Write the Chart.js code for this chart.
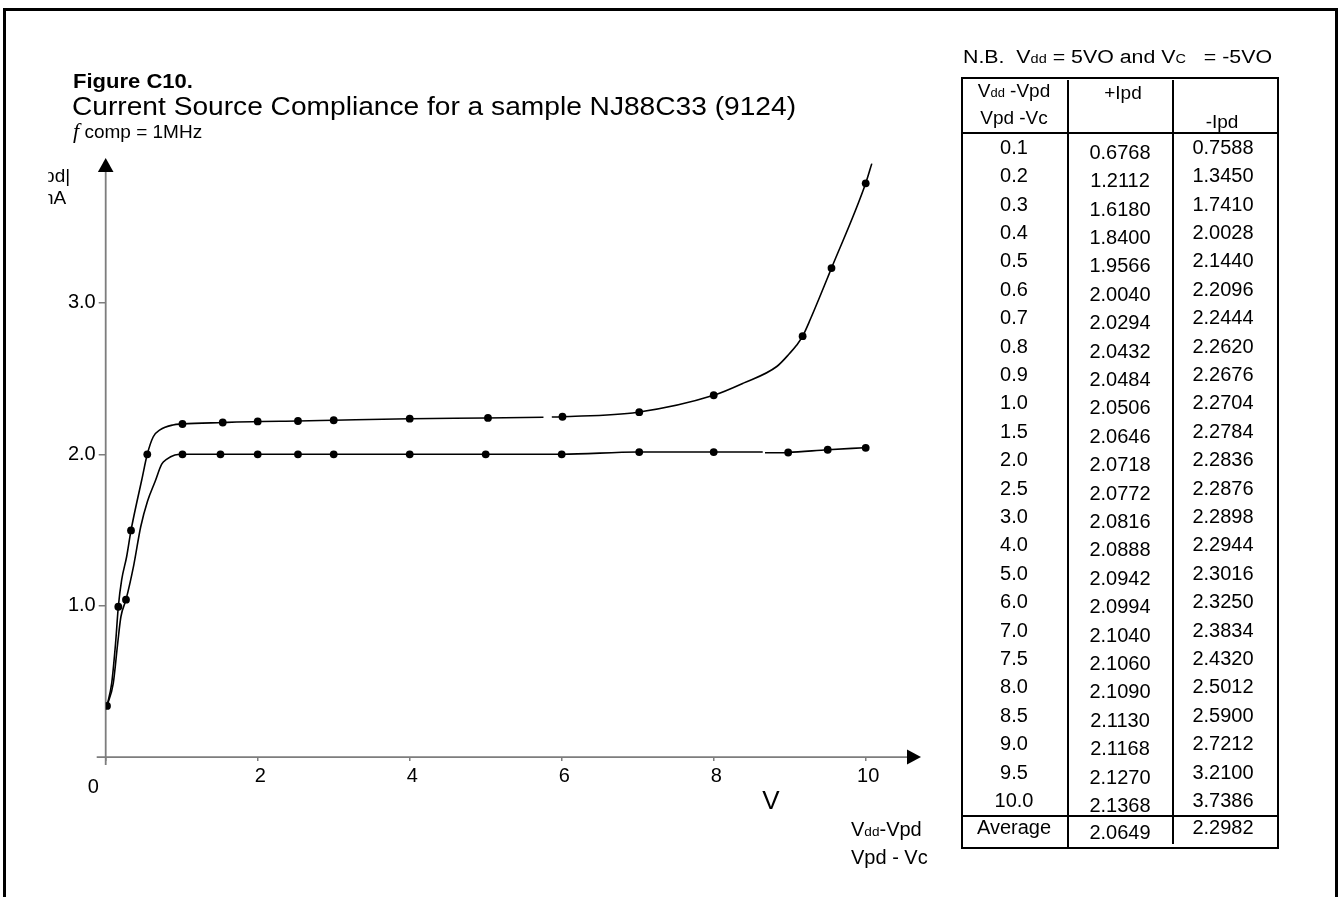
<!DOCTYPE html>
<html>
<head>
<meta charset="utf-8">
<script src="https://cdn.jsdelivr.net/npm/chart.js@4.4.1/dist/chart.umd.min.js"></script>
<style>
  html, body { margin: 0; padding: 0; background: #fff; }
  body { width: 1340px; height: 897px; position: relative; overflow: hidden;
         font-family: "Liberation Sans", Arial, sans-serif; color: #000; }
  #frame { position: absolute; left: 3px; top: 8px; width: 1329px; height: 900px;
           border: 3px solid #000; border-bottom: none; }
  #c { position: absolute; left: 0; top: 0; }
  .t { position: absolute; white-space: pre; }
  .sub { font-size: 0.68em; line-height: 0; }
  .ln { position: absolute; background: #000; }
  #ylab { position: absolute; left: 48px; top: 150px; width: 50px; height: 70px; overflow: hidden; }
</style>
</head>
<body>
<div id="frame"></div>
<canvas id="c" width="1340" height="897"></canvas>
<div id="ylab"></div>
<script>
// ---- measured curves: -Ipd (upper) and +Ipd (lower), V vs mA ----
const minusTraceV = [0.017, 0.079, 0.13, 0.166, 0.21, 0.276, 0.333, 0.408, 0.474, 0.547, 0.626, 0.714, 0.886, 1.01, 1.54, 2.0, 2.53, 3.0, 4.0, 5.0, 5.76, 5.87, 6.0, 7.0, 8.0, 8.39, 8.83, 9.0, 9.09, 9.17, 9.27, 9.55, 10.0, 10.08];
const minusTraceI = [0.338, 0.489, 0.753, 0.993, 1.17, 1.325, 1.497, 1.68, 1.83, 2.0, 2.116, 2.161, 2.194, 2.2, 2.21, 2.217, 2.22, 2.225, 2.235, 2.24, 2.245, 2.246, 2.248, 2.278, 2.39, 2.47, 2.58, 2.667, 2.72, 2.78, 2.89, 3.23, 3.79, 3.92];
const minusGapStart = 5.76;

const plusTraceV = [0.017, 0.1, 0.158, 0.2, 0.267, 0.37, 0.46, 0.55, 0.65, 0.737, 0.8, 0.91, 1.01, 1.51, 2.0, 2.53, 3.0, 4.0, 5.0, 6.0, 7.0, 8.0, 8.645, 8.675, 8.98, 9.5, 9.98];
const plusTraceI = [0.338, 0.489, 0.753, 0.927, 1.04, 1.27, 1.52, 1.69, 1.82, 1.935, 1.966, 1.995, 2.0, 2.0, 2.0, 2.0, 2.0, 2.0, 2.0, 2.0, 2.015, 2.015, 2.015, 2.01, 2.012, 2.03, 2.043];
const plusGapStart = 8.645;

const minusDotV = [0.166, 0.333, 0.547, 1.01, 1.54, 2.0, 2.53, 3.0, 4.0, 5.03, 6.01, 7.02, 8.0, 9.17, 9.55, 10.0];
const minusDotI = [0.993, 1.497, 2.0, 2.2, 2.21, 2.217, 2.22, 2.225, 2.235, 2.24, 2.248, 2.278, 2.39, 2.78, 3.23, 3.79];
const plusDotV = [0.017, 0.267, 1.01, 1.51, 2.0, 2.53, 3.0, 4.0, 5.0, 6.0, 7.02, 8.0, 8.98, 9.5, 10.0];
const plusDotI = [0.338, 1.04, 2.0, 2.0, 2.0, 2.0, 2.0, 2.0, 2.0, 2.0, 2.015, 2.015, 2.012, 2.03, 2.043];

// ---- axis ticks ----
const xTickValues = [0, 2, 4, 6, 8, 10];
const xTickLabels = ['0', '2', '4', '6', '8', '10'];
const yTickValues = [1, 2, 3];
const yTickLabels = ['1.0', '2.0', '3.0'];

// ---- table of results ----
const tableV = ['0.1','0.2','0.3','0.4','0.5','0.6','0.7','0.8','0.9','1.0','1.5','2.0','2.5','3.0','4.0','5.0','6.0','7.0','7.5','8.0','8.5','9.0','9.5','10.0'];
const tablePlus = ['0.6768','1.2112','1.6180','1.8400','1.9566','2.0040','2.0294','2.0432','2.0484','2.0506','2.0646','2.0718','2.0772','2.0816','2.0888','2.0942','2.0994','2.1040','2.1060','2.1090','2.1130','2.1168','2.1270','2.1368'];
const tableMinus = ['0.7588','1.3450','1.7410','2.0028','2.1440','2.2096','2.2444','2.2620','2.2676','2.2704','2.2784','2.2836','2.2876','2.2898','2.2944','2.3016','2.3250','2.3834','2.4320','2.5012','2.5900','2.7212','3.2100','3.7386'];
const tableAverage = ['Average', '2.0649', '2.2982'];

const FONT = '"Liberation Sans", Arial, sans-serif';

// place a text line by its baseline
function label(html, x, base, size, o = {}) {
  const d = document.createElement('div');
  d.className = 't';
  d.innerHTML = html;
  d.style.fontSize = size + 'px';
  d.style.lineHeight = size + 'px';
  d.style.top = (base - 0.8465 * size) + 'px';
  d.style.left = x + 'px';
  if (o.weight) d.style.fontWeight = o.weight;
  (o.parent || document.body).appendChild(d);
  let sx = 1;
  if (o.width) sx = o.width / d.getBoundingClientRect().width;
  const tr = o.align === 'center' ? 'translateX(-50%)' : o.align === 'right' ? 'translateX(-100%)' : '';
  if (sx !== 1) { d.style.transformOrigin = o.align === 'center' ? '50% 50%' : '0 50%'; }
  d.style.transform = tr + (sx !== 1 ? ' scaleX(' + sx.toFixed(4) + ')' : '');
  return d;
}
function line(x, y, w, h) {
  const d = document.createElement('div');
  d.className = 'ln';
  Object.assign(d.style, { left: x + 'px', top: y + 'px', width: w + 'px', height: h + 'px' });
  document.body.appendChild(d);
}

// ---- headings ----
label('Figure C10.', 73, 88, 21, { weight: 'bold', width: 120 });
label('Current Source Compliance for a sample NJ88C33 (9124)', 72, 115, 26, { width: 724 });
label('<span style="font-family:\'Liberation Serif\',serif;font-style:italic;font-size:22px">f</span> comp = 1MHz', 73, 137, 19);

// y-axis unit (left part cut by the page margin)
const ylab = document.getElementById('ylab');
label('|Ipd|', 4, 32, 19, { align: 'center', parent: ylab });
label('mA', 4, 54, 19, { align: 'center', parent: ylab });

// x-axis captions
label('V', 771, 809, 26, { align: 'center' });
label('V<span class="sub">dd</span>-Vpd', 851, 836, 20);
label('Vpd - Vc', 851, 864, 20);

// ---- table ----
label('N.B.  V<span class="sub">dd</span> = 5VO and V<span class="sub">C</span>   = -5VO', 963, 63, 18, { width: 309 });
const TL = 961, TR = 1277, TT = 77, TB = 847, C1 = 1067, C2 = 1172, LW = 1.5;
line(TL, TT, TR - TL, LW);
line(TL, TB, TR - TL, LW);
line(TL, TT, LW, TB - TT + LW);
line(TR, TT, LW, TB - TT + LW);
line(C1, TT + 3, LW, TB - TT - 3);
line(C2, TT + 3, LW, TB - TT - 6);
line(TL, 132, TR - TL, LW);
line(TL, 815, TR - TL, LW);
const cx = [1014, 1120, 1223];
label('V<span class="sub">dd</span> -Vpd', cx[0], 97, 19, { align: 'center' });
label('Vpd -Vc', cx[0], 124, 19, { align: 'center' });
label('+Ipd', 1123, 99, 19, { align: 'center' });
label('-Ipd', 1222, 128, 19, { align: 'center' });
tableV.forEach((v, i) => {
  const b = 153.7 + i * 28.4;
  label(v, cx[0], b, 20, { align: 'center' });
  label(tablePlus[i], cx[1], b + 5, 20, { align: 'center' });
  label(tableMinus[i], cx[2], b, 20, { align: 'center' });
});
label(tableAverage[0], cx[0], 834, 20, { align: 'center' });
label(tableAverage[1], cx[1], 839, 20, { align: 'center' });
label(tableAverage[2], cx[2], 834, 20, { align: 'center' });

// ---- chart ----
const pts = (xs, ys) => xs.map((v, i) => ({ x: v, y: ys[i] }));
const INK = '#000';

const arrowAxes = {
  id: 'arrowAxes',
  beforeDatasetsDraw(chart) {
    const { ctx, scales: { x, y } } = chart;
    const x0 = x.getPixelForValue(0), y0 = y.getPixelForValue(0);
    ctx.save();
    ctx.strokeStyle = '#7d7d7d';
    ctx.lineWidth = 1.8;
    ctx.beginPath();
    ctx.moveTo(x0 - 9, y0); ctx.lineTo(x.right - 3, y0);
    ctx.moveTo(x0, y0 + 8); ctx.lineTo(x0, y.top + 19);
    ctx.stroke();
    ctx.fillStyle = INK;
    ctx.beginPath();
    ctx.moveTo(x.right - 4.3, y0 - 7.5); ctx.lineTo(x.right + 9.7, y0); ctx.lineTo(x.right - 4.3, y0 + 7.5);
    ctx.closePath(); ctx.fill();
    ctx.beginPath();
    ctx.moveTo(x0 - 7.8, y.top + 20.5); ctx.lineTo(x0, y.top + 6.5); ctx.lineTo(x0 + 7.8, y.top + 20.5);
    ctx.closePath(); ctx.fill();
    // origin label sits below-left of the crossing
    ctx.font = '20px ' + FONT;
    ctx.textAlign = 'center';
    ctx.textBaseline = 'alphabetic';
    ctx.fillText(xTickLabels[0], x0 - 12.4, y0 + 36);
    ctx.restore();
  }
};

const gapSeg = (g) => ({ borderColor: c => (c.p0.parsed.x === g ? 'rgba(0,0,0,0)' : INK) });

new Chart(document.getElementById('c'), {
  type: 'scatter',
  data: {
    datasets: [
      { label: '-Ipd', data: pts(minusTraceV, minusTraceI), showLine: true, pointRadius: 0,
        borderColor: INK, borderWidth: 1.6, cubicInterpolationMode: 'monotone', segment: gapSeg(minusGapStart) },
      { label: '+Ipd', data: pts(plusTraceV, plusTraceI), showLine: true, pointRadius: 0,
        borderColor: INK, borderWidth: 1.6, cubicInterpolationMode: 'monotone', segment: gapSeg(plusGapStart) },
      { label: '-Ipd points', data: pts(minusDotV, minusDotI), showLine: false, pointRadius: 3.9,
        pointBackgroundColor: INK, pointBorderWidth: 0 },
      { label: '+Ipd points', data: pts(plusDotV, plusDotI), showLine: false, pointRadius: 3.9,
        pointBackgroundColor: INK, pointBorderWidth: 0 }
    ]
  },
  options: {
    responsive: false,
    animation: false,
    devicePixelRatio: 1,
    layout: { padding: { left: 0, top: 151.5, right: 428.7, bottom: 0 }, autoPadding: false },
    plugins: { legend: { display: false }, tooltip: { enabled: false } },
    scales: {
      x: {
        type: 'linear', min: 0, max: 10.6,
        afterFit: s => { s.height = 897 - 757.1; },
        afterBuildTicks: s => { s.ticks = xTickValues.map(v => ({ value: v })); },
        grid: { drawOnChartArea: false, drawTicks: true, tickLength: 4, color: '#7d7d7d', lineWidth: 1.5 },
        border: { display: false },
        ticks: {
          callback: v => (v === 0 ? '' : xTickLabels[xTickValues.indexOf(v)]),
          font: { family: FONT, size: 20 }, color: INK, padding: 3, labelOffset: 2.5,
          maxRotation: 0, autoSkip: false
        }
      },
      y: {
        type: 'linear', min: 0, max: 4,
        afterFit: s => { s.width = 105.7; },
        afterBuildTicks: s => { s.ticks = yTickValues.map(v => ({ value: v })); },
        grid: { drawOnChartArea: false, drawTicks: true, tickLength: 7, color: '#7d7d7d', lineWidth: 1.5 },
        border: { display: false },
        ticks: {
          callback: v => yTickLabels[yTickValues.indexOf(v)],
          font: { family: FONT, size: 20 }, color: INK, padding: 3, autoSkip: false
        }
      }
    }
  },
  plugins: [arrowAxes]
});
</script>
</body>
</html>
